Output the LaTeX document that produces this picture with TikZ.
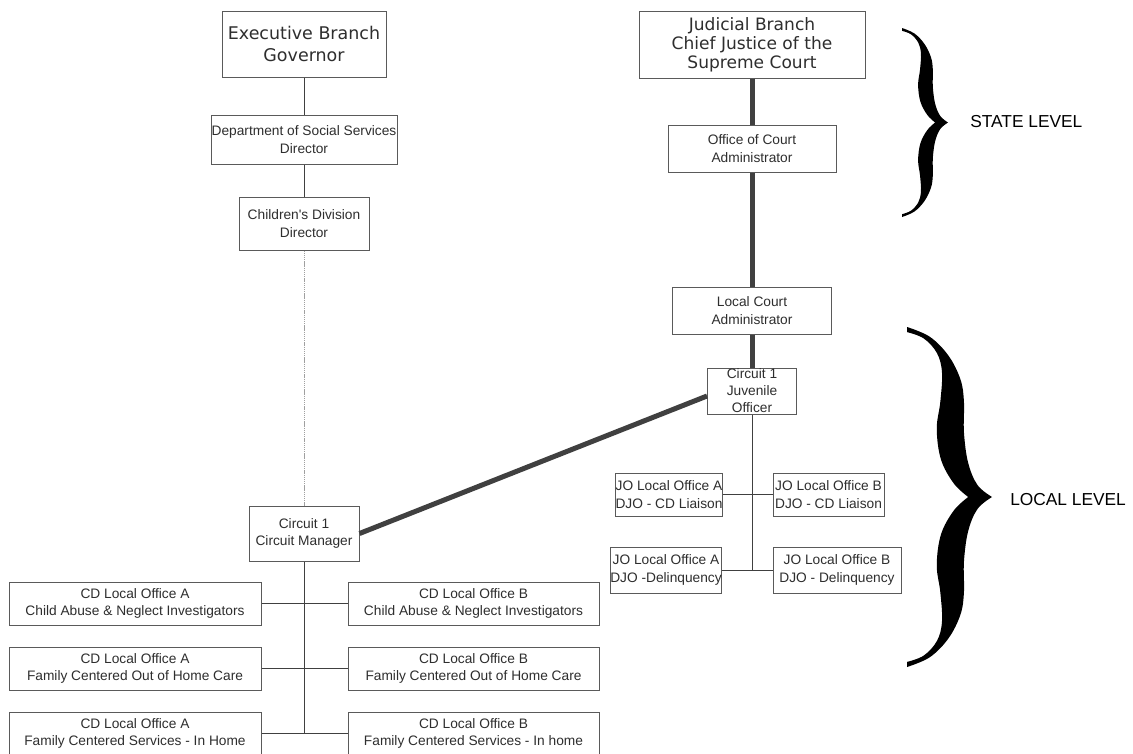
\documentclass[tikz,border=0pt]{standalone}
\usepackage{fontspec}
\usepackage{graphicx}
\usetikzlibrary{calc}
\newfontfamily\sm{Liberation Sans}
\newfontfamily\vd{DejaVu Sans}
\definecolor{bord}{HTML}{5A5A5A}
\definecolor{txt}{HTML}{2E2E2E}
\definecolor{ln}{HTML}{404040}
\definecolor{heavyc}{HTML}{404040}
\definecolor{dotc}{HTML}{A0A0A0}
\def\mybrace{%
 \fill[black] plot[smooth,tension=0.6] coordinates {(0,0) (0.27,0.058) (0.49,0.17) (0.63,0.31) (0.67,0.44) (0.67,0.62) (0.72,0.80) (0.83,0.93) (1,1)}
 -- plot[smooth,tension=0.6] coordinates {(1,1) (0.83,1.07) (0.72,1.20) (0.67,1.38) (0.67,1.56) (0.63,1.69) (0.49,1.83) (0.27,1.942) (0,2)}
 -- plot[smooth,tension=0.6] coordinates {(0,1.97) (0.196,1.933) (0.353,1.846) (0.412,1.73) (0.392,1.56) (0.35,1.40) (0.40,1.22) (0.55,1.08) (0.72,1.0)}
 -- plot[smooth,tension=0.6] coordinates {(0.72,1.0) (0.55,0.92) (0.40,0.78) (0.35,0.60) (0.392,0.44) (0.412,0.27) (0.353,0.154) (0.196,0.067) (0,0.03)}
 -- cycle;}
\begin{document}
\begin{tikzpicture}[x=0.75pt,y=-0.75pt,
  box/.style={draw=bord, line width=0.75pt, fill=white, inner sep=0pt, align=center, text=txt,
              font=\sm\fontsize{10.3pt}{13.1pt}\selectfont},
  sz/.style 2 args={minimum width=#1*0.75pt, minimum height=#2*0.75pt},
  big/.style={font=\vd\fontsize{13.1pt}{16.3pt}\selectfont},
  bigj/.style={font=\vd\fontsize{12.8pt}{14.4pt}\selectfont},
  thinln/.style={draw=ln, line width=0.75pt},
  heavy/.style={draw=heavyc, line width=3.75pt},
  dotln/.style={draw=dotc, line width=0.6pt, dash pattern=on 1pt off 0.6pt},
  lvl/.style={font=\sm\fontsize{13pt}{15pt}\selectfont, text=black, inner sep=0pt, anchor=west}
  ]
\useasboundingbox (0,0) rectangle (1133,754);
\fill[white] (0,0) rectangle (1133,754);
\clip (0,0) rectangle (1133,754);

% connectors first (boxes filled white on top)
% left column nodes
\node[box,big,sz={164}{66}] (exec) at (304,44) {Executive Branch\\Governor};
\node[box,sz={186}{49}] (dss) at (304,139.5) {Department of Social Services\\Director};
\node[box,sz={130}{53}] (cdd) at (304,223.5) {Children\textquotesingle s Division\\Director};
\node[box,sz={110}{55}] (cm) at (304,533.5) {Circuit 1\\Circuit Manager};
\node[box,sz={252}{43}] (a1) at (135,603.5) {CD Local Office A\\Child Abuse \& Neglect Investigators};
\node[box,sz={252}{43}] (a2) at (135,668.5) {CD Local Office A\\Family Centered Out of Home Care};
\node[box,sz={252}{43}] (a3) at (135,733.5) {CD Local Office A\\Family Centered Services - In Home};
\node[box,sz={251}{43}] (b1) at (473.5,603.5) {CD Local Office B\\Child Abuse \& Neglect Investigators};
\node[box,sz={251}{43}] (b2) at (473.5,668.5) {CD Local Office B\\Family Centered Out of Home Care};
\node[box,sz={251}{43}] (b3) at (473.5,733.5) {CD Local Office B\\Family Centered Services - In home};

% right column nodes
\node[box,bigj,sz={226}{67}] (jud) at (752,44.5) {Judicial Branch\\Chief Justice of the\\Supreme Court};
\node[box,sz={168}{47}] (oca) at (752,148.5) {Office of Court\\Administrator};
\node[box,sz={159}{47}] (lca) at (752,310.5) {Local Court\\Administrator};
\node[box,sz={89}{46},font=\sm\fontsize{10.3pt}{12.75pt}\selectfont] (juv) at (752,391) {Circuit 1\\Juvenile\\Officer};
\node[box,sz={104}{43}] (la) at (669,494.5) {JO Local Office A\\DJO - CD Liaison};
\node[box,sz={111}{43}] (lb) at (828.5,494.5) {JO Local Office B\\DJO - CD Liaison};
\node[box,sz={110}{46}] (da) at (666,570) {JO Local Office A\\DJO -Delinquency};
\node[box,sz={128}{46}] (db) at (837,570) {JO Local Office B\\DJO - Delinquency};

% connectors
\draw[thinln] (exec.south) -- (dss.north);
\draw[thinln] (dss.south) -- (cdd.north);
\draw[dotln] (cdd.south) -- (cm.north);
\draw[thinln] (cm.south) -- (cm.south |- a3.east);
\draw[thinln] (a1.east) -- (b1.west);
\draw[thinln] (a2.east) -- (b2.west);
\draw[thinln] (a3.east) -- (b3.west);

\draw[heavy] (jud.south) -- (oca.north);
\draw[heavy] (oca.south) -- (lca.north);
\draw[heavy] (lca.south) -- (juv.north);
\draw[heavy] (cm.east) -- ($(juv.west)+(0,5)$);
\draw[thinln] (juv.south) -- (juv.south |- db.west);
\draw[thinln] (la.east) -- (lb.west);
\draw[thinln] (da.east) -- (db.west);

% braces
\begin{scope}[shift={(902,28)}, xscale=46, yscale=94.5]
\mybrace
\end{scope}
\begin{scope}[shift={(907,327)}, xscale=85, yscale=170]
\mybrace
\end{scope}
\node[lvl] (state) at (970,122) {STATE LEVEL};
\node[lvl] (local) at (1010,500) {LOCAL LEVEL};
\end{tikzpicture}
\end{document}
